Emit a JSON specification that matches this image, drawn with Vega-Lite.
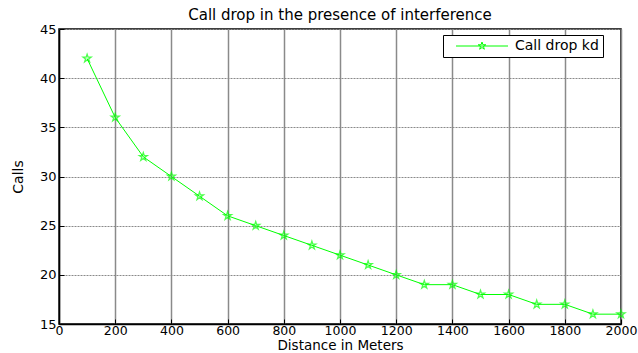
{
  "$schema": "https://vega.github.io/schema/vega-lite/v6.json",
  "width": 562,
  "height": 295,
  "autosize": {"type": "none"},
  "padding": {"left": 59, "top": 29, "right": 17, "bottom": 29},
  "background": "white",
  "title": {
    "text": "Call drop in the presence of interference",
    "font": "DejaVu Sans",
    "fontSize": 15,
    "fontWeight": "normal",
    "color": "black",
    "frame": "group",
    "anchor": "middle",
    "offset": 0
  },
  "data": {
    "values": [
      {"distance": 100, "calls": 42, "series": "Call drop kd"},
      {"distance": 200, "calls": 36, "series": "Call drop kd"},
      {"distance": 300, "calls": 32, "series": "Call drop kd"},
      {"distance": 400, "calls": 30, "series": "Call drop kd"},
      {"distance": 500, "calls": 28, "series": "Call drop kd"},
      {"distance": 600, "calls": 26, "series": "Call drop kd"},
      {"distance": 700, "calls": 25, "series": "Call drop kd"},
      {"distance": 800, "calls": 24, "series": "Call drop kd"},
      {"distance": 900, "calls": 23, "series": "Call drop kd"},
      {"distance": 1000, "calls": 22, "series": "Call drop kd"},
      {"distance": 1100, "calls": 21, "series": "Call drop kd"},
      {"distance": 1200, "calls": 20, "series": "Call drop kd"},
      {"distance": 1300, "calls": 19, "series": "Call drop kd"},
      {"distance": 1400, "calls": 19, "series": "Call drop kd"},
      {"distance": 1500, "calls": 18, "series": "Call drop kd"},
      {"distance": 1600, "calls": 18, "series": "Call drop kd"},
      {"distance": 1700, "calls": 17, "series": "Call drop kd"},
      {"distance": 1800, "calls": 17, "series": "Call drop kd"},
      {"distance": 1900, "calls": 16, "series": "Call drop kd"},
      {"distance": 2000, "calls": 16, "series": "Call drop kd"}
    ]
  },
  "encoding": {
    "x": {
      "field": "distance",
      "type": "quantitative",
      "scale": {"domain": [0, 2000], "nice": false},
      "axis": {
        "title": "Distance in Meters",
        "format": "d",
        "values": [0, 200, 400, 600, 800, 1000, 1200, 1400, 1600, 1800, 2000],
        "gridColor": "#8a8a8a",
        "gridWidth": 1.5,
        "labelFlush": false,
        "labelPadding": 5,
        "labelFontSize": 12.5,
        "titleFontSize": 13.5,
        "titleY": 25.5,
        "titleBaseline": "alphabetic"
      }
    },
    "y": {
      "field": "calls",
      "type": "quantitative",
      "scale": {"domain": [15, 45], "nice": false, "zero": false},
      "axis": {
        "title": "Calls",
        "format": "d",
        "values": [15, 20, 25, 30, 35, 40, 45],
        "gridColor": "#8a8a8a",
        "gridWidth": 1,
        "gridDash": [2, 1],
        "labelPadding": 8,
        "titlePadding": 14
      }
    },
    "color": {
      "field": "series",
      "type": "nominal",
      "scale": {"domain": ["Call drop kd"], "range": ["#00ff00"]},
      "legend": {
        "title": null,
        "orient": "none",
        "legendX": 384,
        "legendY": 6,
        "symbolType": "M0.4,0L10.8,0M5.6,-0.8L5.78,-0.247L6.361,-0.247L5.89,0.094L6.07,0.647L5.6,0.306L5.13,0.647L5.31,0.094L4.839,-0.247L5.42,-0.247Z",
        "symbolSize": 100,
        "symbolStrokeWidth": 1,
        "symbolStrokeColor": "#00ff00",
        "symbolFillColor": "transparent",
        "strokeColor": "black",
        "fillColor": "white",
        "padding": 4,
        "labelFontSize": 14,
        "labelFont": "DejaVu Sans",
        "labelColor": "black",
        "labelOffset": 54
      }
    }
  },
  "layer": [
    {"mark": {"type": "line", "strokeWidth": 1}},
    {
      "mark": {
        "type": "point",
        "shape": "M0,-1L0.225,-0.309L0.951,-0.309L0.363,0.118L0.588,0.809L0,0.382L-0.588,0.809L-0.363,0.118L-0.951,-0.309L-0.225,-0.309Z",
        "filled": false,
        "size": 70,
        "strokeWidth": 1.3
      },
      "encoding": {"color": {"field": "series", "type": "nominal", "legend": null}}
    }
  ],
  "config": {
    "view": {"stroke": "black", "strokeWidth": 1.5},
    "axis": {
      "domainColor": "black",
      "domainWidth": 1.5,
      "tickColor": "black",
      "tickSize": -5,
      "labelFont": "DejaVu Sans",
      "labelFontSize": 13,
      "labelColor": "black",
      "titleFont": "DejaVu Sans",
      "titleFontSize": 14,
      "titleFontWeight": "normal",
      "titleColor": "black",
      "gridOpacity": 1
    }
  }
}
